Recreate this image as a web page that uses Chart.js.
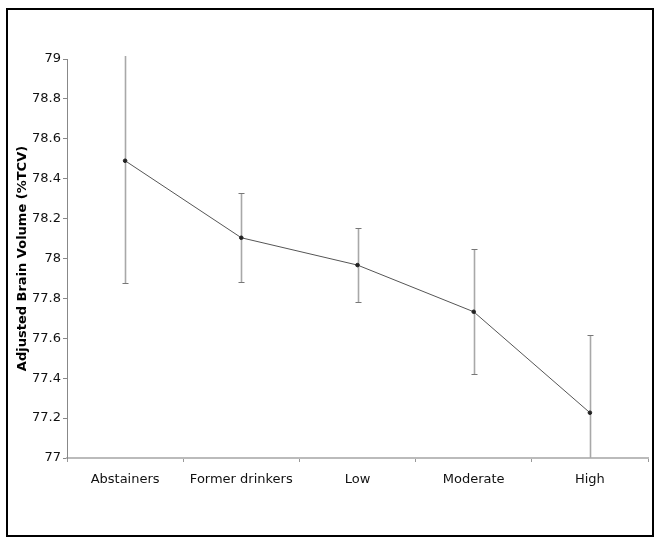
<!DOCTYPE html>
<html>
<head>
<meta charset="utf-8">
<script src="https://cdn.jsdelivr.net/npm/chart.js@4"></script>
<style>
html,body{margin:0;padding:0;background:#fff;}
#wrap{position:relative;width:660px;height:544px;}
</style>
</head>
<body>
<div id="wrap"><canvas id="c" width="660" height="544"></canvas></div>
<script>
const categories = ['Abstainers', 'Former drinkers', 'Low', 'Moderate', 'High'];
const meanVolume = [78.49, 78.104, 77.967, 77.733, 77.227];
const ciLower = [77.876, 77.88, 77.782, 77.421, 76.84];
const ciUpper = [79.10, 78.327, 78.153, 78.046, 77.615];
const yTitle = 'Adjusted Brain Volume (%TCV)';
const yMin = 77, yMax = 79, yStep = 0.2;

const FONT = 'DejaVu Sans';

const frame = {
  id: 'frame',
  afterDraw(chart) {
    const ctx = chart.ctx;
    ctx.save();
    ctx.strokeStyle = '#000';
    ctx.lineWidth = 2;
    ctx.strokeRect(7, 9, 646, 527);
    ctx.restore();
  }
};

const errorBars = {
  id: 'errorBars',
  beforeDatasetsDraw(chart) {
    const ctx = chart.ctx;
    const xs = chart.scales.x, ys = chart.scales.y;
    const area = chart.chartArea;
    ctx.save();
    ctx.beginPath();
    ctx.rect(area.left, area.top - 3, area.right - area.left, area.bottom - area.top + 3);
    ctx.clip();
    categories.forEach((c, i) => {
      const x = Math.round(xs.getPixelForValue(i)) + 0.5;
      const yl = ys.getPixelForValue(ciLower[i]);
      const yh = ys.getPixelForValue(ciUpper[i]);
      ctx.strokeStyle = '#a8a8a8';
      ctx.lineWidth = 1.6;
      ctx.beginPath();
      ctx.moveTo(x, yl);
      ctx.lineTo(x, yh);
      ctx.stroke();
      ctx.strokeStyle = '#777';
      ctx.lineWidth = 1;
      [yl, yh].forEach(y => {
        if (y >= area.top - 1 && y <= area.bottom - 1) {
          ctx.beginPath();
          ctx.moveTo(x - 3, Math.round(y) + 0.5);
          ctx.lineTo(x + 3, Math.round(y) + 0.5);
          ctx.stroke();
        }
      });
    });
    ctx.restore();
  }
};

new Chart(document.getElementById('c'), {
  type: 'line',
  data: {
    labels: categories,
    datasets: [{
      data: meanVolume,
      borderColor: '#555',
      borderWidth: 1,
      pointRadius: 1.8,
      pointBackgroundColor: '#222',
      pointBorderColor: '#222',
      tension: 0,
      fill: false
    }]
  },
  options: {
    responsive: false,
    animation: false,
    devicePixelRatio: 1,
    layout: { padding: { top: 59, right: 12, bottom: 0, left: 0 } },
    plugins: { legend: { display: false }, tooltip: { enabled: false }, title: { display: false } },
    scales: {
      x: {
        type: 'category',
        offset: true,
        grid: { offset: true, drawOnChartArea: false, tickLength: 4, tickColor: '#999' },
        border: { color: '#bbb', width: 2 },
        ticks: { color: '#111', font: { family: FONT, size: 13 }, padding: 10, maxRotation: 0, autoSkip: false },
        afterFit(s) { s.height = 86; }
      },
      y: {
        min: yMin, max: yMax,
        grid: { drawOnChartArea: false, tickLength: 4, tickColor: '#888' },
        border: { color: '#888', width: 1 },
        ticks: {
          stepSize: yStep, color: '#111', font: { family: FONT, size: 13 }, padding: 2,
          callback: v => String(parseFloat(v.toFixed(1)))
        },
        title: { display: true, text: yTitle, color: '#000', font: { family: FONT, size: 13, weight: 'bold' }, padding: { top: 15, bottom: 0 } },
        afterFit(s) { s.width = 67; }
      }
    }
  },
  plugins: [frame, errorBars]
});
</script>
</body>
</html>
